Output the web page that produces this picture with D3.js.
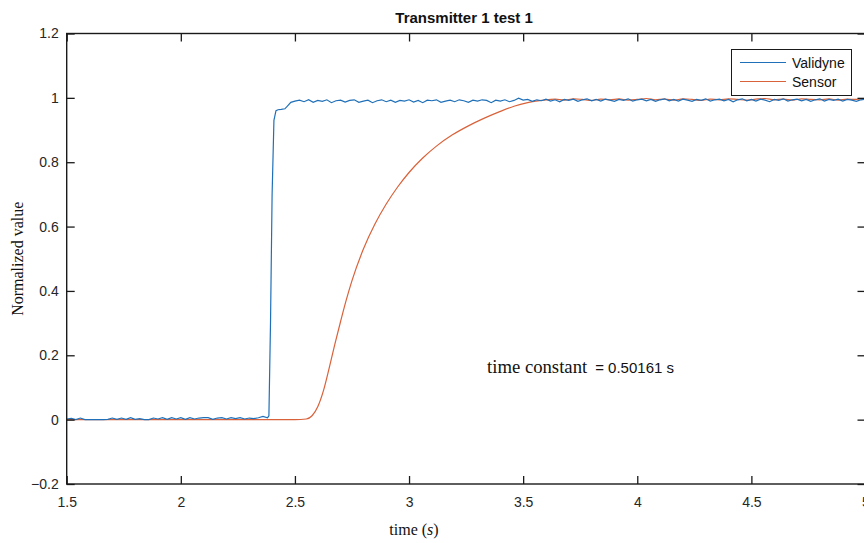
<!DOCTYPE html>
<html>
<head>
<meta charset="utf-8">
<script src="https://cdn.jsdelivr.net/npm/d3@7"></script>
<style>
  body { margin: 0; background: #fff; }
  svg { display: block; }
</style>
</head>
<body>
<div id="chart"></div>
<script>
// ---- data ----
var xTicks = [1.5, 2, 2.5, 3, 3.5, 4, 4.5, 5];
var yTicks = [-0.2, 0, 0.2, 0.4, 0.6, 0.8, 1, 1.2];
var seriesNames = ["Validyne", "Sensor"];

// validyne: baseline before the step, sampled every 0.02 s from 1.5 s
var validyneBase = [
	0.002, 0.004, 0, 0.005, 0, 0, 0, 0, 0, 0.001,
	0.005, 0.001, 0.005, 0.001, 0.006, 0.001, 0.003, 0, 0, 0.005,
	0.002, 0.006, 0.001, 0.006, 0.002, 0.006, 0.001, 0.006, 0.002, 0.005,
	0.006, 0.006, 0.001, 0.005, 0.006, 0.002, 0.006, 0.003, 0.006, 0.002,
	0.005, 0.003, 0.006, 0.010, 0.006
];
// validyne: the step itself
var validyneStepT = [2.386, 2.393, 2.400, 2.408, 2.417, 2.426, 2.440, 2.456, 2.469, 2.482];
var validyneStepV = [0.012, 0.30, 0.70, 0.93, 0.960, 0.963, 0.964, 0.966, 0.976, 0.986];
// validyne: plateau, sampled every 0.02 s from 2.5 s
var validyneTop = [
	0.990, 0.993, 0.988, 0.994, 0.986, 0.992, 0.989, 0.994, 0.985, 0.991,
	0.993, 0.987, 0.992, 0.994, 0.986, 0.990, 0.993, 0.985, 0.991, 0.994,
	0.988, 0.993, 0.986, 0.992, 0.990, 0.994, 0.987, 0.992, 0.985, 0.993,
	0.991, 0.994, 0.986, 0.990, 0.993, 0.988, 0.994, 0.991, 0.986, 0.993,
	0.990, 0.994, 0.992, 0.985, 0.993, 0.990, 0.994, 0.988, 0.992, 0.999,
	0.993, 0.995, 0.989, 0.994, 0.991, 0.996, 0.990, 0.994, 0.988, 0.995,
	0.992, 0.996, 0.989, 0.994, 0.997, 0.991, 0.995, 0.990, 0.996, 0.993,
	0.989, 0.995, 0.992, 0.997, 0.990, 0.994, 0.996, 0.991, 0.995, 0.989,
	0.994, 0.997, 0.991, 0.995, 0.990, 0.996, 0.993, 0.989, 0.995, 0.992,
	0.997, 0.990, 0.994, 0.996, 0.991, 0.995, 0.988, 0.994, 0.997, 0.991,
	0.995, 0.990, 0.996, 0.993, 0.988, 0.995, 0.992, 0.997, 0.990, 0.994,
	0.996, 0.991, 0.995, 0.989, 0.994, 0.997, 0.990, 0.995, 0.992, 0.996,
	0.990, 0.995, 0.993, 0.989, 0.994, 0.996
];

// sensor: smooth rise
var sensorRiseT = [1.5, 2.50, 2.55, 2.575, 2.60, 2.625, 2.65, 2.675, 2.70, 2.725, 2.75,
	2.80, 2.85, 2.90, 2.95, 3.00, 3.06, 3.12, 3.19, 3.26, 3.33, 3.40, 3.46, 3.52, 3.58];
var sensorRiseV = [0, 0, 0.002, 0.012, 0.04, 0.09, 0.16, 0.235, 0.305, 0.372, 0.432,
	0.53, 0.607, 0.670, 0.723, 0.768, 0.813, 0.850, 0.885, 0.913, 0.937, 0.958, 0.974, 0.985, 0.992];
// sensor: plateau, sampled every 0.04 s from 3.6 s
var sensorTop = [
	0.994, 0.996, 0.993, 0.997, 0.995, 0.992, 0.996, 0.994, 0.997, 0.993,
	0.995, 0.998, 0.994, 0.996, 0.993, 0.997, 0.995, 0.992, 0.996, 0.994,
	0.997, 0.995, 0.993, 0.996, 0.998, 0.994, 0.996, 0.993, 0.997, 0.995,
	0.994, 0.997, 0.993, 0.996, 0.995, 0.997
];

var annotationSerif = "time constant";
var annotationSans = "= 0.50161 s";

// build point lists
function zip(ts, vs){
	return ts.map(function(t, i){ return {t: t, v: vs[i]}; });
}
var baseT = d3.range(1.5, 2.385, 0.02);
var topT = d3.range(2.5, 5.005, 0.02);
var sensorTopT = d3.range(3.6, 5.01, 0.04);

var validyne = zip(baseT, validyneBase)
	.concat(zip(validyneStepT, validyneStepV))
	.concat(zip(topT, validyneTop));
var sensor = zip(sensorRiseT, sensorRiseV).concat(zip(sensorTopT, sensorTop));

// ---- drawing ----
var W = 864, H = 543;
var pLeft = 66.7, pRight = 865.5, pTop = 33.5, pBottom = 484;
var blue = "#1f70b8", orange = "#d9623a";

var svg = d3.select("#chart").append("svg")
	.attr("width", W)
	.attr("height", H);

var x = d3.scaleLinear().domain([1.5, 5]).range([pLeft, pRight]);
var y = d3.scaleLinear().domain([-0.2, 1.2]).range([pBottom, pTop]);

svg.append("defs").append("clipPath")
	.attr("id", "plotclip")
	.append("rect")
	.attr("x", pLeft).attr("y", pTop)
	.attr("width", pRight - pLeft).attr("height", pBottom - pTop);

var line = d3.line()
	.x(function(d){ return x(d.t); })
	.y(function(d){ return y(d.v); });

var plot = svg.append("g").attr("clip-path", "url(#plotclip)");

plot.append("path")
	.datum(sensor)
	.attr("fill", "none")
	.attr("stroke", orange)
	.attr("stroke-width", 1.2)
	.attr("d", line.curve(d3.curveMonotoneX));

plot.append("path")
	.datum(validyne)
	.attr("fill", "none")
	.attr("stroke", blue)
	.attr("stroke-width", 1.2)
	.attr("d", line.curve(d3.curveLinear));

// axes, ticks pointing inward on all four sides
var tickFont = "'Liberation Sans', Arial, sans-serif";
var fmt = function(d){ return d3.format("~g")(d); };

function styleAxis(g){
	g.select(".domain").remove();
	g.selectAll(".tick line").attr("stroke", "#1a1a1a").attr("stroke-width", 1.3);
	g.selectAll(".tick text")
		.attr("fill", "#262626")
		.style("font-family", tickFont)
		.style("font-size", "14px");
}

svg.append("g")
	.attr("transform", "translate(0," + pBottom + ")")
	.call(d3.axisBottom(x).tickValues(xTicks).tickFormat(fmt).tickSizeInner(-8).tickSizeOuter(0).tickPadding(13))
	.call(styleAxis);

svg.append("g")
	.attr("transform", "translate(0," + pTop + ")")
	.call(d3.axisTop(x).tickValues(xTicks).tickFormat("").tickSizeInner(-8).tickSizeOuter(0))
	.call(styleAxis);

svg.append("g")
	.attr("transform", "translate(" + pLeft + ",0)")
	.call(d3.axisLeft(y).tickValues(yTicks).tickFormat(fmt).tickSizeInner(-8).tickSizeOuter(0).tickPadding(8))
	.call(styleAxis);

svg.append("g")
	.attr("transform", "translate(" + pRight + ",0)")
	.call(d3.axisRight(y).tickValues(yTicks).tickFormat("").tickSizeInner(-8).tickSizeOuter(0))
	.call(styleAxis);

svg.append("rect")
	.attr("x", pLeft).attr("y", pTop)
	.attr("width", pRight - pLeft).attr("height", pBottom - pTop)
	.attr("fill", "none")
	.attr("stroke", "#1a1a1a")
	.attr("stroke-width", 1.4);

// title and axis labels
svg.append("text")
	.attr("x", (pLeft + pRight) / 2 - 2)
	.attr("y", 23)
	.attr("text-anchor", "middle")
	.style("font-family", tickFont)
	.style("font-weight", "bold")
	.style("font-size", "15px")
	.attr("fill", "#111")
	.text("Transmitter 1 test 1");

svg.append("text")
	.attr("transform", "translate(23," + ((pTop + pBottom) / 2) + ") rotate(-90)")
	.attr("text-anchor", "middle")
	.style("font-family", "'Liberation Serif', 'Times New Roman', serif")
	.style("font-size", "16px")
	.attr("fill", "#111")
	.text("Normalized value");

var xl = svg.append("text")
	.attr("x", 414)
	.attr("y", 535)
	.attr("text-anchor", "middle")
	.style("font-family", "'Liberation Serif', 'Times New Roman', serif")
	.style("font-size", "16px")
	.attr("fill", "#111");
xl.append("tspan").text("time (");
xl.append("tspan").style("font-style", "italic").text("s");
xl.append("tspan").text(")");

// annotation
var ann = svg.append("text")
	.attr("x", 487)
	.attr("y", 373)
	.attr("fill", "#111");
ann.append("tspan")
	.style("font-family", "'Liberation Serif', 'Times New Roman', serif")
	.style("font-size", "18.7px")
	.text(annotationSerif);
ann.append("tspan")
	.attr("dx", 8)
	.style("font-family", tickFont)
	.style("font-size", "15px")
	.text(annotationSans);

// legend
var legend = svg.append("g");
legend.append("rect")
	.attr("x", 731.5).attr("y", 49.5)
	.attr("width", 120).attr("height", 46)
	.attr("fill", "#fff")
	.attr("stroke", "#1a1a1a")
	.attr("stroke-width", 1);

var legendColors = [blue, orange];
seriesNames.forEach(function(name, i){
	var ly = 62.5 + i * 19;
	legend.append("line")
		.attr("x1", 740).attr("x2", 786)
		.attr("y1", ly).attr("y2", ly)
		.attr("stroke", legendColors[i])
		.attr("stroke-width", 1.2);
	legend.append("text")
		.attr("x", 792).attr("y", ly + 5)
		.style("font-family", tickFont)
		.style("font-size", "14px")
		.attr("fill", "#111")
		.text(name);
});
</script>
</body>
</html>
